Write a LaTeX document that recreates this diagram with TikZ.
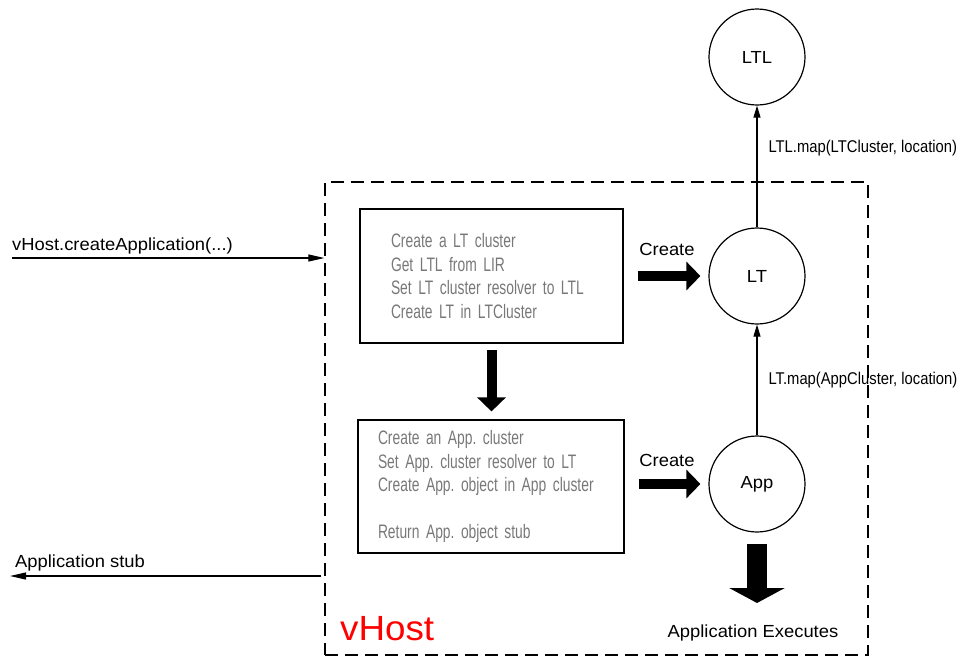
\documentclass[tikz,border=0pt]{standalone}
\usepackage{fontspec}
\setmainfont[FakeStretch=1.05]{Liberation Sans}
\newfontfamily\stepfont[FakeStretch=0.71,WordSpace=0.8]{Liberation Sans}
\newfontfamily\mapfont[FakeStretch=0.87]{Liberation Sans}
\usetikzlibrary{arrows.meta,calc}
\definecolor{stepgrey}{RGB}{120,120,120}
\definecolor{hostred}{RGB}{255,0,0}
\frenchspacing
\tikzset{
  objcircle/.style={draw, circle, line width=1.2pt, minimum size=96pt, inner sep=0pt},
  stepbox/.style={draw, line width=1.2pt, align=left, text=stepgrey, font=\stepfont\fontsize{19.5}{23.5}\selectfont},
  hostbox/.style={draw, dash pattern=on 13pt off 7pt, line width=1.3pt, inner sep=0pt},
  callline/.style={line width=1.1pt, -{Triangle[length=16pt,width=7pt]}},
  mapline/.style={line width=1.1pt, -{Triangle[length=12pt,width=7pt]}},
  fatarrow/.style={line width=10pt, -{Triangle[length=14pt,width=28pt]}},
  bigarrow/.style={line width=20pt, -{Triangle[length=15pt,width=55pt]}},
  maplabel/.style={font=\mapfont\fontsize{17}{20}\selectfont, inner sep=0pt, anchor=west, xshift=11pt}
}
\begin{document}
\begin{tikzpicture}[x=1pt,y=1pt,yscale=-1,xscale=1,font=\fontsize{17.5}{21}\selectfont]
        \useasboundingbox (0,0) rectangle (962,657);

        %Shape: Dashed Rect
        \node[hostbox, minimum width=543pt, minimum height=473pt] (host) at (596.5,418.5) {};
        %Shape: Circle
        \node[objcircle] (ltl) at (757,57) {LTL};
        %Shape: Circle
        \node[objcircle] (lt) at (757,276) {LT};
        %Shape: Circle
        \node[objcircle] (app) at (757,484) {App};
        %Shape: Rectangle
        \node[stepbox, text width=201pt, inner xsep=31pt, minimum height=134pt] (ltbox) at (491.5,276)
            {Create a LT cluster\\Get LTL from LIR\\Set LT cluster resolver to LTL\\Create LT in LTCluster};
        %Shape: Rectangle
        \node[stepbox, text width=226pt, inner xsep=20pt, minimum height=133pt] (appbox) at (491,486.5)
            {Create an App. cluster\\Set App. cluster resolver to LT\\Create App. object in App cluster\\[23.5pt]Return App. object stub};

        \coordinate (callsrc) at (12,258);
        \coordinate (stubdst) at (10,576);
        \coordinate (runtip) at (757,603);

        %Straight Lines
        \draw[callline] (callsrc) -- (callsrc -| host.west);
        %Straight Lines
        \draw[callline] ($(stubdst -| host.west)+(-3,0)$) -- (stubdst);
        %Straight Lines
        \draw[mapline] (lt) -- (ltl) node[maplabel, pos=0.65] {LTL.map(LTCluster, location)};
        %Straight Lines
        \draw[mapline] (app) -- (lt) node[maplabel, midway] {LT.map(AppCluster, location)};

        %Block Arrows
        \draw[fatarrow, shorten <=14pt, shorten >=8pt] (ltbox.east |- lt) -- (lt);
        \draw[fatarrow, shorten <=14pt, shorten >=8pt] (appbox.east |- app) -- (app);
        \draw[fatarrow, shorten <=6pt, shorten >=8pt] (ltbox.south) -- (ltbox.south |- appbox.north);
        \draw[bigarrow, shorten <=11pt] (app) -- (runtip);

        % Text Node
        \node[anchor=base west, inner sep=0pt] (calltext) at (12,250) {vHost.createApplication(...)};
        % Text Node
        \node[anchor=base west, inner sep=0pt] (stubtext) at (15,567) {Application stub};
        % Text Node
        \node[anchor=base, inner sep=0pt] (createlt) at (667,255) {Create};
        % Text Node
        \node[anchor=base, inner sep=0pt] (createapp) at (667,466) {Create};
        % Text Node
        \node[anchor=base, inner sep=0pt] (exectext) at (753,637) {Application Executes};
        % Text Node
        \node[anchor=base west, inner sep=0pt, text=hostred, font=\fontsize{35}{40}\selectfont] (hostname) at (340,640) {vHost};
\end{tikzpicture}
\end{document}
